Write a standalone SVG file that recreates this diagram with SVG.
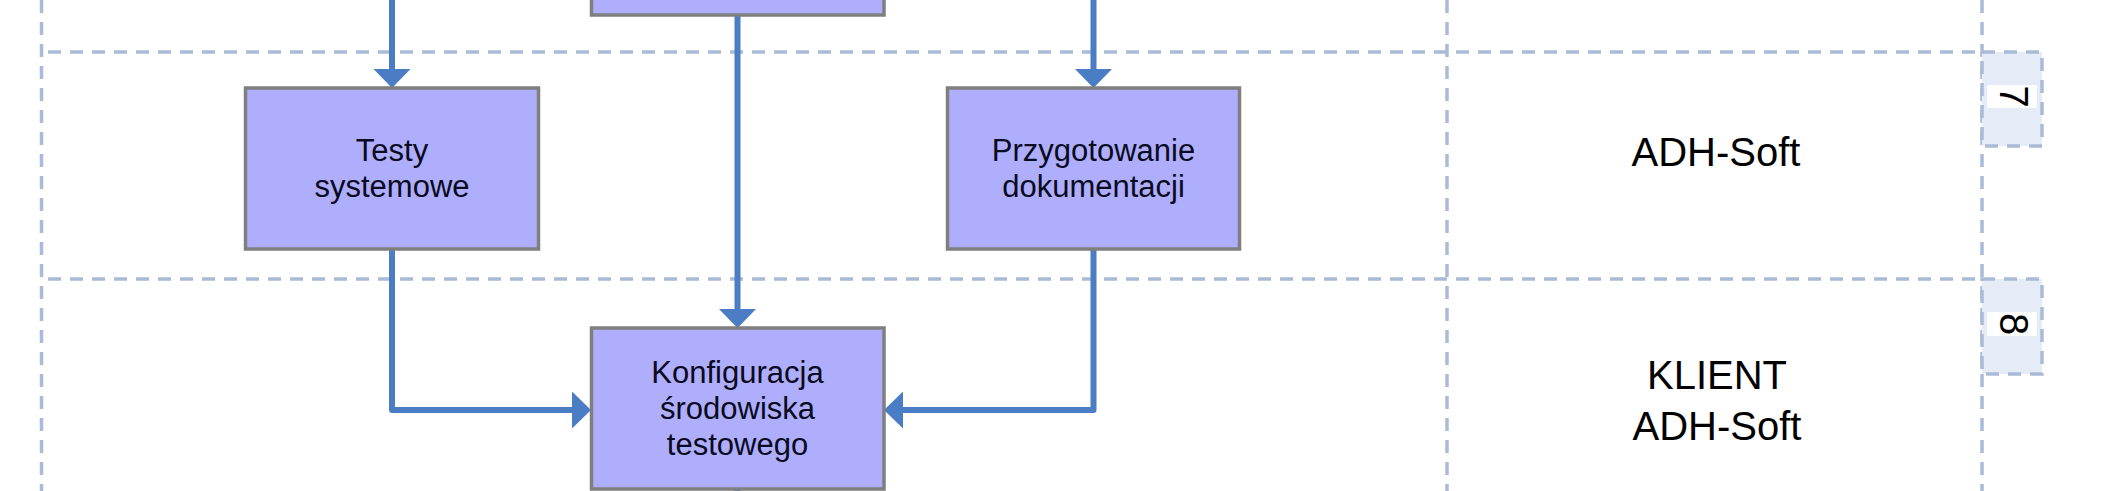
<svg xmlns="http://www.w3.org/2000/svg" width="2104" height="491" viewBox="0 0 2104 491">
<style>
.lane{fill:none;stroke:#a9bbd7;stroke-width:3.5;stroke-dasharray:13 9}
.tab{fill:#e6ecf7;stroke:#a9bbd7;stroke-width:3.5;stroke-dasharray:13 9}
.box{fill:#aeaefc;stroke:#7f7f7f;stroke-width:3.5}
.bt{font-family:"Liberation Sans",Arial,sans-serif;font-size:31px;fill:#0a0a20;text-anchor:middle}
.lt{font-family:"Liberation Sans",Arial,sans-serif;font-size:40px;fill:#000;text-anchor:middle}
.conn{fill:none;stroke:#4a7dc3;stroke-width:6;stroke-linejoin:round;marker-end:url(#ah)}
</style>
<defs>
<marker id="ah" viewBox="0 0 19 37" refX="9" refY="18.5" markerWidth="19" markerHeight="37" markerUnits="userSpaceOnUse" orient="auto">
<path d="M0,0 L19,18.5 L0,37 Z" fill="#4a7dc3"/>
</marker>
</defs>
<rect width="2104" height="491" fill="#fff"/>
<g id="lanes">
<line class="lane" x1="41.5" y1="0" x2="41.5" y2="491"/>
<line class="lane" x1="1447" y1="0" x2="1447" y2="491"/>
<line class="lane" x1="1982" y1="0" x2="1982" y2="491"/>
<line class="lane" x1="48" y1="52" x2="1982" y2="52"/>
<line class="lane" x1="48" y1="279" x2="1982" y2="279"/>
</g>
<g id="lane7">
<rect class="tab" x="1982" y="52" width="60" height="94"/>
<rect x="1987" y="85" width="50" height="23" fill="#fff"/>
<text class="lt" transform="translate(2000,96.5) rotate(90)">7</text>
<text class="lt" x="1716" y="166">ADH-Soft</text>
</g>
<g id="lane8">
<rect class="tab" x="1982" y="279" width="60" height="95"/>
<rect x="1987" y="312" width="50" height="24" fill="#fff"/>
<text class="lt" transform="translate(2000,324) rotate(90)">8</text>
<text class="lt" x="1717" y="389">KLIENT</text>
<text class="lt" x="1717" y="440">ADH-Soft</text>
</g>
<g id="connectors">
<path class="conn" d="M392,0 V78"/>
<path class="conn" d="M1093.5,0 V78"/>
<path class="conn" d="M737.5,16 V318"/>
<path class="conn" d="M392,249 V410 H581"/>
<path class="conn" d="M1093.5,249 V410 H894"/>
<path d="M737.5,489 V491" fill="none" stroke="#4a7dc3" stroke-width="6"/>
</g>
<g id="node-top">
<rect class="box" x="591.5" y="-146" width="292.5" height="161"/>
</g>
<g id="node-testy">
<rect class="box" x="245.5" y="88" width="293" height="161"/>
<text class="bt" x="392" y="161">Testy</text>
<text class="bt" x="392" y="197">systemowe</text>
</g>
<g id="node-przygotowanie">
<rect class="box" x="947.5" y="88" width="292" height="161"/>
<text class="bt" x="1093.5" y="161">Przygotowanie</text>
<text class="bt" x="1093.5" y="197">dokumentacji</text>
</g>
<g id="node-konfiguracja">
<rect class="box" x="591.5" y="328" width="292.5" height="161"/>
<text class="bt" x="737.5" y="382.5">Konfiguracja</text>
<text class="bt" x="737.5" y="418.5">środowiska</text>
<text class="bt" x="737.5" y="454.5">testowego</text>
</g>
</svg>
